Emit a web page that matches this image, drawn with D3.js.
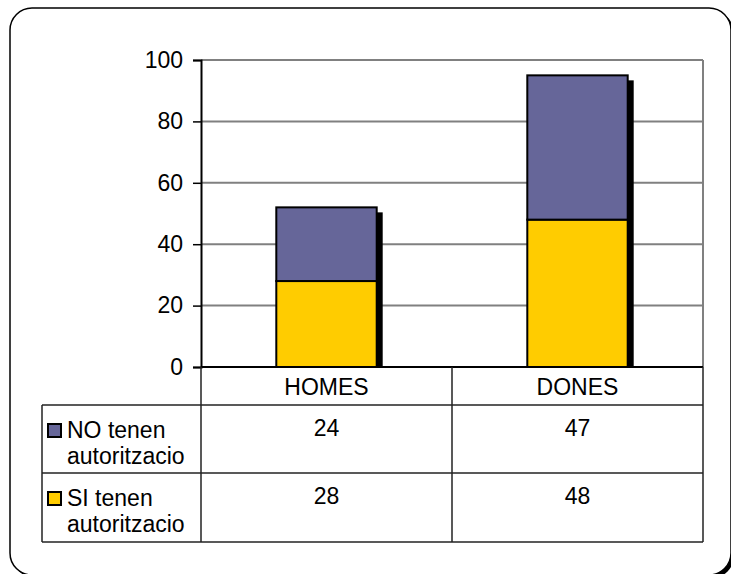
<!DOCTYPE html>
<html>
<head>
<meta charset="utf-8">
<script src="https://cdn.jsdelivr.net/npm/d3@7"></script>
<style>
body { margin: 0; background: #fff; }
text { font-family: "Liberation Sans", Arial, sans-serif; font-size: 23px; fill: #000; }
</style>
</head>
<body>
<div id="chart"></div>
<script>
var categories = ["HOMES", "DONES"];
var seriesNames = ["NO tenen autoritzacio", "SI tenen autoritzacio"];
var noValues = [24, 47];
var siValues = [28, 48];
var yTicks = [0, 20, 40, 60, 80, 100];
var seriesColors = ["#666699", "#FFCC00"];

var width = 731, height = 574;
var svg = d3.select("#chart").append("svg")
    .attr("width", width)
    .attr("height", height);

// outer frame (rounded, with shadow at the corner)
svg.append("rect")
    .attr("x", 13).attr("y", 11)
    .attr("width", 721).attr("height", 567)
    .attr("rx", 22).attr("fill", "#000");
svg.append("rect")
    .attr("x", 10).attr("y", 8)
    .attr("width", 721).attr("height", 567)
    .attr("rx", 22)
    .attr("fill", "#fff").attr("stroke", "#000").attr("stroke-width", 1.5);

var plotLeft = 201, plotRight = 703, plotTop = 60, plotBottom = 367;
var yScale = d3.scaleLinear().domain([0, 100]).range([plotBottom, plotTop]);
var xScale = d3.scaleBand().domain(categories).range([plotLeft, plotRight]).padding(0);
var barW = xScale.bandwidth() * 0.4;

// gridlines
svg.append("g")
    .selectAll("line")
    .data(yTicks.filter(d => d > 0))
    .enter()
    .append("line")
    .attr("x1", plotLeft).attr("x2", plotRight)
    .attr("y1", d => yScale(d)).attr("y2", d => yScale(d))
    .attr("stroke", "#808080").attr("stroke-width", 2);

// plot right border
svg.append("line")
    .attr("x1", plotRight).attr("x2", plotRight)
    .attr("y1", plotTop).attr("y2", plotBottom)
    .attr("stroke", "#808080").attr("stroke-width", 2);

// stacked data
var stackData = categories.map((c, i) => ({ name: c, no: noValues[i], si: siValues[i] }));
var stack = d3.stack().keys(["si", "no"]);
var layers = stack(stackData);

// shadows
svg.append("g")
    .selectAll("rect")
    .data(stackData)
    .enter()
    .append("rect")
    .attr("x", d => xScale(d.name) + (xScale.bandwidth() - barW) / 2 + 6)
    .attr("y", d => yScale(d.no + d.si) + 5)
    .attr("width", barW)
    .attr("height", d => plotBottom - yScale(d.no + d.si) - 5)
    .attr("fill", "#000");

// bars
var colorByKey = { no: seriesColors[0], si: seriesColors[1] };
svg.append("g")
    .selectAll("g")
    .data(layers)
    .enter()
    .append("g")
    .attr("fill", d => colorByKey[d.key])
    .selectAll("rect")
    .data(d => d)
    .enter()
    .append("rect")
    .attr("x", d => xScale(d.data.name) + (xScale.bandwidth() - barW) / 2)
    .attr("y", d => yScale(d[1]))
    .attr("width", barW)
    .attr("height", d => yScale(d[0]) - yScale(d[1]))
    .attr("stroke", "#000")
    .attr("stroke-width", 2);

// y axis
var yAxis = d3.axisLeft(yScale).tickValues(yTicks).tickSize(8).tickPadding(10);
var gy = svg.append("g")
    .attr("transform", "translate(" + plotLeft + ",0)")
    .call(yAxis);
gy.select(".domain").attr("stroke", "#000").attr("stroke-width", 2);
gy.selectAll(".tick line").attr("stroke", "#000").attr("stroke-width", 1.5);
gy.selectAll("text").attr("font-size", 23).attr("font-family", "Liberation Sans, Arial, sans-serif");

// zero line
svg.append("line")
    .attr("x1", plotLeft).attr("x2", plotRight)
    .attr("y1", plotBottom).attr("y2", plotBottom)
    .attr("stroke", "#000").attr("stroke-width", 2);

// data table
var headerBottom = 405, row1Bottom = 473, row2Bottom = 542, tableLeft = 42;
var tbl = svg.append("g").attr("stroke", "#222").attr("stroke-width", 1.5);
tbl.append("line").attr("x1", plotLeft).attr("x2", plotLeft).attr("y1", plotBottom).attr("y2", row2Bottom);
tbl.append("line").attr("x1", plotRight).attr("x2", plotRight).attr("y1", plotBottom).attr("y2", row2Bottom);
tbl.append("line").attr("x1", xScale("DONES")).attr("x2", xScale("DONES")).attr("y1", plotBottom).attr("y2", row2Bottom);
tbl.append("line").attr("x1", tableLeft).attr("x2", tableLeft).attr("y1", headerBottom).attr("y2", row2Bottom);
[headerBottom, row1Bottom, row2Bottom].forEach(function (yy) {
    tbl.append("line")
        .attr("x1", tableLeft).attr("x2", plotRight)
        .attr("y1", yy).attr("y2", yy);
});

// category labels
svg.append("g")
    .selectAll("text")
    .data(categories)
    .enter()
    .append("text")
    .attr("x", d => xScale(d) + xScale.bandwidth() / 2)
    .attr("y", 395)
    .attr("text-anchor", "middle")
    .text(d => d);

// rows
var rows = [
    { name: seriesNames[0], values: noValues, color: seriesColors[0], y: headerBottom },
    { name: seriesNames[1], values: siValues, color: seriesColors[1], y: row1Bottom }
];
rows.forEach(function (r) {
    svg.append("rect")
        .attr("x", 48).attr("y", r.y + 19)
        .attr("width", 13).attr("height", 13)
        .attr("fill", r.color).attr("stroke", "#000").attr("stroke-width", 2);
    var words = r.name.split(" ");
    svg.append("text").attr("x", 67).attr("y", r.y + 33).text(words[0] + " " + words[1]);
    svg.append("text").attr("x", 67).attr("y", r.y + 59).text(words[2]);
    svg.append("g")
        .selectAll("text")
        .data(r.values)
        .enter()
        .append("text")
        .attr("x", (d, i) => xScale(categories[i]) + xScale.bandwidth() / 2)
        .attr("y", r.y + 31)
        .attr("text-anchor", "middle")
        .text(d => d);
});
</script>
</body>
</html>
